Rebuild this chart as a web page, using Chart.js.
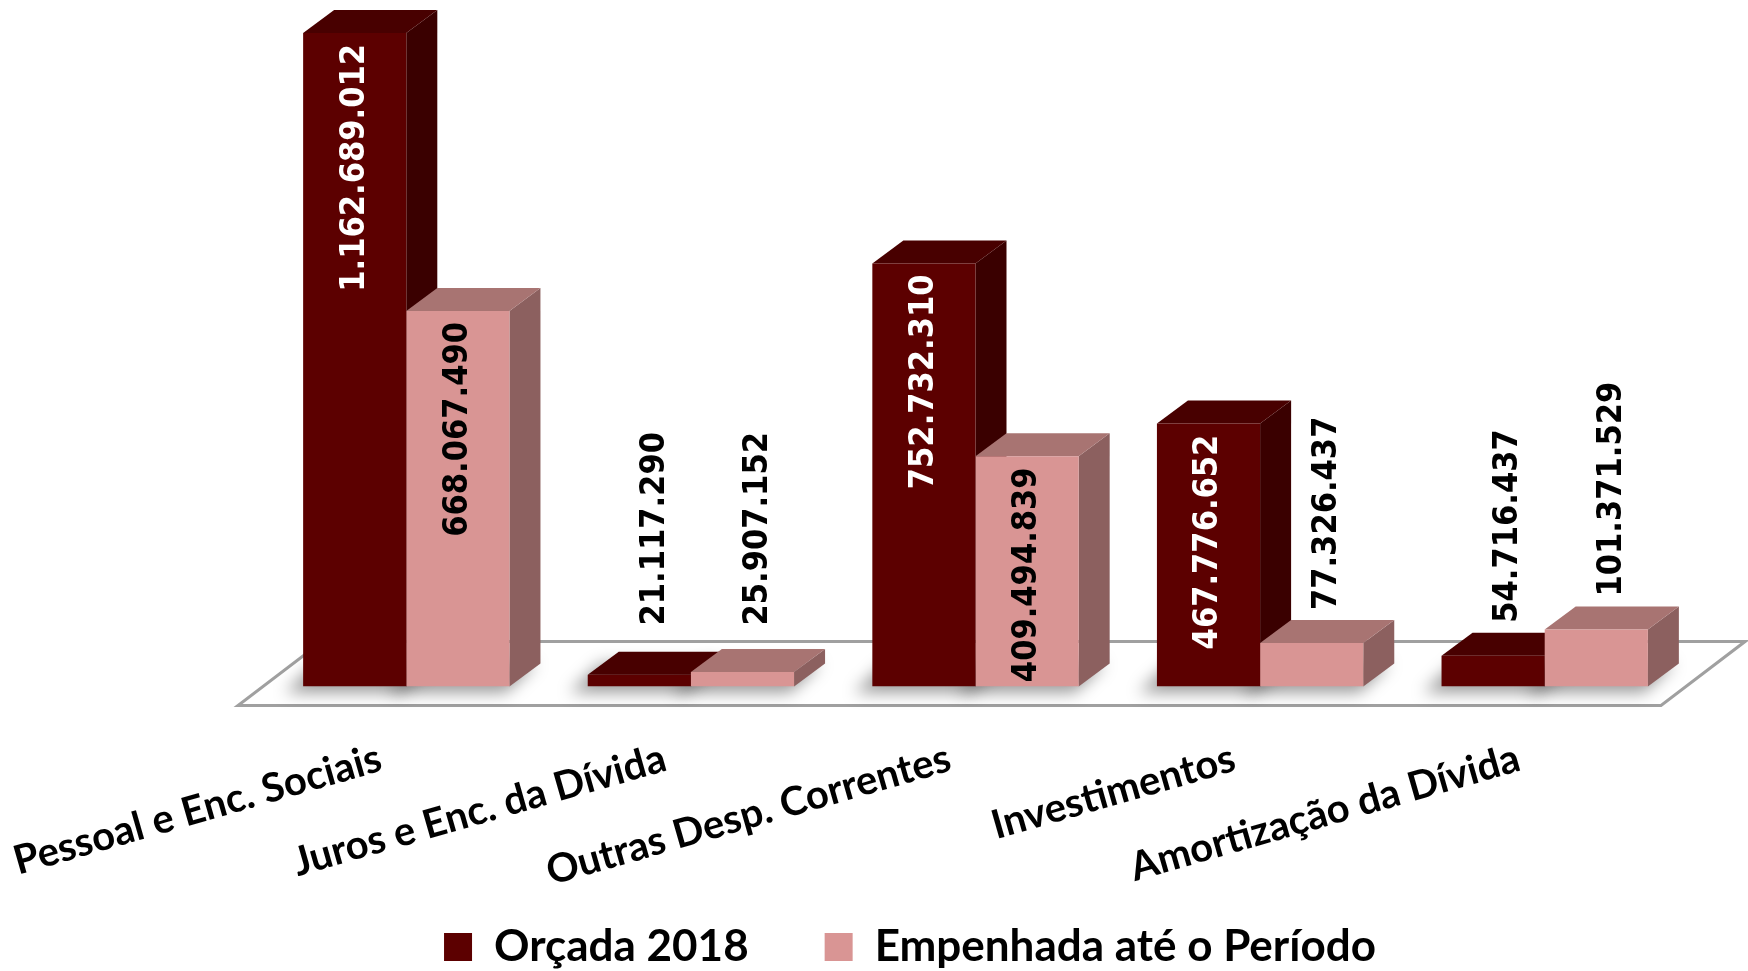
<!DOCTYPE html>
<html lang="pt-BR">
<head>
<meta charset="utf-8">
<title>Despesas orçadas x empenhadas</title>
<script src="https://cdn.jsdelivr.net/npm/chart.js@4.4.1/dist/chart.umd.min.js"></script>
<style>
  html, body { margin: 0; padding: 0; background: #fff; }
  canvas { display: block; }
</style>
</head>
<body>
<canvas id="grafico" width="1748" height="971"></canvas>
<script>
const categorias = ["Pessoal e Enc. Sociais", "Juros e Enc. da Dívida", "Outras Desp. Correntes", "Investimentos", "Amortização da Dívida"];
const series = ["Orçada 2018", "Empenhada até o Período"];
const orcada = [1162689012, 21117290, 752732310, 467776652, 54716437];
const empenhada = [668067490, 25907152, 409494839, 77326437, 101371529];

// frente, topo, lateral
const coresOrcada = ["#5c0000", "#480000", "#3a0000"];
const coresEmpenhada = ["#d99594", "#a87472", "#8c605f"];
const cores3d = [coresOrcada, coresEmpenhada];
const corRotuloDentro = ["#fff", "#000"];

const PROF_X = 31, PROF_Y = -23;

function formatar(v) {
  return String(v).replace(/\B(?=(\d{3})+(?!\d))/g, ".");
}

const barras3d = {
  id: "barras3d",
  afterLayout(chart) {
    // legenda um pouco mais à esquerda e mais baixa, como no original
    const lg = chart.legend;
    const dy = 947 - (lg.top + lg.options.labels.padding + 22);
    lg.top += dy;
    lg.bottom += dy;
    const dx = 910 - (lg.left + lg.right) / 2;
    lg.left += dx;
    lg.right += dx;
  },
  beforeDatasetsDraw(chart) {
    const ctx = chart.ctx;
    const area = chart.chartArea;
    const base = chart.scales.y.getPixelForValue(0);
    ctx.save();

    // piso
    ctx.beginPath();
    ctx.moveTo(area.left - 26, base + 19);
    ctx.lineTo(area.right - 26, base + 19);
    ctx.lineTo(area.right + 58, base - 45);
    ctx.lineTo(area.left + 58, base - 45);
    ctx.closePath();
    ctx.fillStyle = "#fff";
    ctx.fill();
    ctx.strokeStyle = "#a0a0a0";
    ctx.lineWidth = 3;
    ctx.stroke();

    // sombras no piso
    ctx.filter = "blur(8px)";
    ctx.fillStyle = "rgba(0,0,0,0.4)";
    chart.data.datasets.forEach((ds, i) => {
      chart.getDatasetMeta(i).data.forEach(bar => {
        const l = bar.x - bar.width / 2, r = bar.x + bar.width / 2;
        ctx.beginPath();
        ctx.moveTo(l - 18, base + 6);
        ctx.lineTo(r - 4, base + 6);
        ctx.lineTo(r + PROF_X - 4, base + PROF_Y);
        ctx.lineTo(l + PROF_X - 18, base + PROF_Y);
        ctx.closePath();
        ctx.fill();
      });
    });
    ctx.filter = "none";

    // topo e lateral; a frente vem do Chart.js por cima
    chart.data.datasets.forEach((ds, i) => {
      const cores = cores3d[i];
      chart.getDatasetMeta(i).data.forEach(bar => {
        const l = bar.x - bar.width / 2, r = bar.x + bar.width / 2, t = bar.y;
        ctx.fillStyle = cores[2];
        ctx.beginPath();
        ctx.moveTo(r, t);
        ctx.lineTo(r + PROF_X, t + PROF_Y);
        ctx.lineTo(r + PROF_X, base + PROF_Y);
        ctx.lineTo(r, base);
        ctx.closePath();
        ctx.fill();
        ctx.fillStyle = cores[1];
        ctx.beginPath();
        ctx.moveTo(l, t);
        ctx.lineTo(l + PROF_X, t + PROF_Y);
        ctx.lineTo(r + PROF_X, t + PROF_Y);
        ctx.lineTo(r, t);
        ctx.closePath();
        ctx.fill();
      });
    });
    ctx.restore();
  },
  afterDatasetsDraw(chart) {
    const ctx = chart.ctx;
    const base = chart.scales.y.getPixelForValue(0);
    ctx.save();
    ctx.font = 'bold 34px "DejaVu Sans Condensed", "DejaVu Sans", sans-serif';
    ctx.textBaseline = "middle";
    chart.data.datasets.forEach((ds, i) => {
      chart.getDatasetMeta(i).data.forEach((bar, j) => {
        const txt = formatar(ds.data[j]);
        const w = ctx.measureText(txt).width;
        ctx.save();
        if (base - bar.y > w + 12) {
          ctx.translate(bar.x, bar.y + 11);
          ctx.rotate(-Math.PI / 2);
          ctx.textAlign = "right";
          ctx.fillStyle = corRotuloDentro[i];
        } else {
          ctx.translate(bar.x + PROF_X / 2, Math.min(bar.y - 33, base - 61));
          ctx.rotate(-Math.PI / 2);
          ctx.textAlign = "left";
          ctx.fillStyle = "#000";
        }
        ctx.fillText(txt, 0, 0);
        ctx.restore();
      });
    });
    ctx.restore();
  }
};

new Chart(document.getElementById("grafico"), {
  type: "bar",
  data: {
    labels: categorias,
    datasets: [
      { label: series[0], data: orcada, backgroundColor: coresOrcada[0], barPercentage: 1, categoryPercentage: 0.725 },
      { label: series[1], data: empenhada, backgroundColor: coresEmpenhada[0], barPercentage: 1, categoryPercentage: 0.725 }
    ]
  },
  options: {
    responsive: false,
    animation: false,
    layout: { padding: { top: 12, left: 264, right: 61, bottom: -103 } },
    scales: {
      x: {
        grid: { display: false, drawTicks: false },
        border: { display: false },
        // os rótulos inclinados podem sair pela esquerda sem empurrar as barras
        afterFit(scale) { scale.paddingLeft = 0; },
        ticks: {
          autoSkip: false,
          minRotation: 16,
          maxRotation: 16,
          labelOffset: -26,
          padding: 48,
          color: "#000",
          font: { family: "Lato", weight: "bold", size: 40 }
        }
      },
      y: { display: false, min: 0, max: 1.2e9 }
    },
    plugins: {
      legend: {
        position: "bottom",
        labels: {
          boxWidth: 28,
          boxHeight: 28,
          padding: 76,
          color: "#000",
          font: { family: "Lato", weight: "bold", size: 44 }
        }
      },
      tooltip: { enabled: false }
    }
  },
  plugins: [barras3d]
});
</script>
</body>
</html>
